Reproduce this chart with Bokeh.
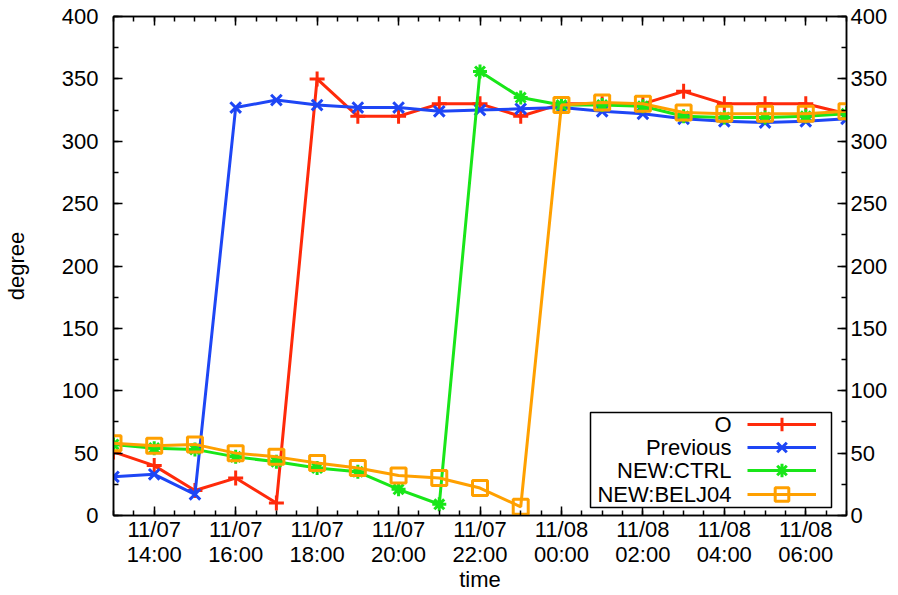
from bokeh.plotting import figure
from bokeh.models import (Range1d, LinearAxis, DatetimeAxis, SingleIntervalTicker,
                          DatetimeTickFormatter, Legend, LegendItem, BoxAnnotation,
                          CustomJSTickFormatter, Label)
from bokeh.embed import file_html
from bokeh.resources import INLINE
import pandas as pd

# ---------------- data ----------------
times = ["2012-11-07 13:00", "2012-11-07 14:00", "2012-11-07 15:00", "2012-11-07 16:00",
         "2012-11-07 17:00", "2012-11-07 18:00", "2012-11-07 19:00", "2012-11-07 20:00",
         "2012-11-07 21:00", "2012-11-07 22:00", "2012-11-07 23:00", "2012-11-08 00:00",
         "2012-11-08 01:00", "2012-11-08 02:00", "2012-11-08 03:00", "2012-11-08 04:00",
         "2012-11-08 05:00", "2012-11-08 06:00", "2012-11-08 07:00"]
obs_O    = [51, 40, 20, 30, 10, 350, 320, 320, 330, 330, 320, 330, 330, 330, 340, 330, 330, 330, 322]
previous = [31, 33, 17, 327, 333, 329, 327, 327, 324, 325, 326, 327, 324, 322, 318, 316, 315, 316, 318]
new_ctrl = [57, 54, 53, 47, 43, 38, 35, 21, 9, 356, 335, 329, 329, 328, 320, 319, 319, 320, 322]
new_belj = [58, 56, 57, 50, 47, 42, 38, 32, 30, 22, 7, 329, 331, 330, 323, 322, 322, 322, 324]
labels   = ["O", "Previous", "NEW:CTRL", "NEW:BELJ04"]
colors   = ["#ff2a0a", "#1e46f5", "#19e619", "#ffa000"]
markers  = ["cross", "x", "asterisk", "square"]
x_start, x_end = "2012-11-07 13:00", "2012-11-08 07:00"
y_start, y_end = 0, 400

t = pd.to_datetime(times)
values = [obs_O, previous, new_ctrl, new_belj]

FONT = "Liberation Sans"
FS = "22px"

p = figure(width=890, height=595, x_axis_type="datetime",
           x_range=Range1d(pd.Timestamp(x_start), pd.Timestamp(x_end)),
           y_range=Range1d(y_start, y_end),
           output_backend="svg", toolbar_location=None,
           min_border_left=107, min_border_right=0, min_border_top=16, min_border_bottom=0,
           background_fill_color="white", border_fill_color="white")
p.xgrid.visible = False
p.ygrid.visible = False
p.outline_line_color = "black"
p.outline_line_width = 1.5

xticker = SingleIntervalTicker(interval=2 * 3600 * 1000, num_minor_ticks=4)
yticker = SingleIntervalTicker(interval=50, num_minor_ticks=2)

fmt = "%m/%d\n%H:%M"
xfmt = DatetimeTickFormatter(hours=fmt, hourmin=fmt, minutes=fmt, minsec=fmt, days=fmt)

def style(ax):
    ax.axis_line_color = "black"
    ax.axis_line_width = 1.5
    ax.major_tick_in = 9
    ax.major_tick_out = 0
    ax.minor_tick_in = 5
    ax.minor_tick_out = 0
    ax.major_tick_line_color = "black"
    ax.minor_tick_line_color = "black"
    ax.major_tick_line_width = 1.5
    ax.minor_tick_line_width = 1.5
    ax.major_label_text_font = FONT
    ax.major_label_text_font_size = FS
    ax.major_label_text_color = "black"
    ax.axis_label_text_font = FONT
    ax.axis_label_text_font_size = FS
    ax.axis_label_text_font_style = "normal"
    ax.axis_label_text_color = "black"
    ax.axis_label_standoff = 0

xa = p.xaxis[0]
xa.ticker = xticker
xa.formatter = xfmt
xa.axis_label = "time"
style(xa)
xa.major_label_standoff = 1
xa.major_label_text_line_height = 1.03
xa.axis_label_standoff = -3

ya = p.yaxis[0]
ya.ticker = yticker
ya.axis_label = "degree"
style(ya)
ya.major_label_standoff = 15
ya.axis_label_standoff = 30

top = DatetimeAxis(ticker=xticker, formatter=CustomJSTickFormatter(code="return ''"))
style(top)
top.major_label_standoff = 0
p.add_layout(top, "above")

right = LinearAxis(ticker=yticker)
style(right)
right.major_label_standoff = 4
p.add_layout(right, "right")

sizes = [15, 15, 14, 15]
rends = []
for vals, color, marker, size in zip(values, colors, markers, sizes):
    rl = p.line(t, vals, line_color=color, line_width=3)
    rs = p.scatter(t, vals, marker=marker, size=size, line_color=color, line_width=3,
                   fill_alpha=0)
    rends.append([rl, rs])

# legend frame (screen units, relative to the plot frame's bottom-left)
box = BoxAnnotation(left=477, right=718, bottom=8, top=103,
                    left_units="screen", right_units="screen",
                    top_units="screen", bottom_units="screen",
                    fill_color="white", fill_alpha=1.0,
                    line_color="black", line_width=1.5, line_alpha=1.0)
p.add_layout(box)

row_y = [91, 68, 45, 21]        # row centres, frame screen units
glyph_x, glyph_w, glyph_h = 634, 69, 34
label_right = 618
for lab, rr, yc in zip(labels, rends, row_y):
    lg = Legend(items=[LegendItem(label="", renderers=rr)],
                location=(glyph_x, yc - glyph_h / 2), orientation="vertical",
                glyph_width=glyph_w, glyph_height=glyph_h, spacing=0, padding=0, margin=0,
                label_standoff=0, label_width=0,
                border_line_alpha=0, background_fill_alpha=0)
    p.add_layout(lg)
    p.add_layout(Label(x=label_right, y=yc, x_units="screen", y_units="screen", text=lab,
                       text_align="right", text_baseline="middle",
                       text_font=FONT, text_font_size=FS, text_color="black"))

open("out.html", "w").write(file_html(p, INLINE))
